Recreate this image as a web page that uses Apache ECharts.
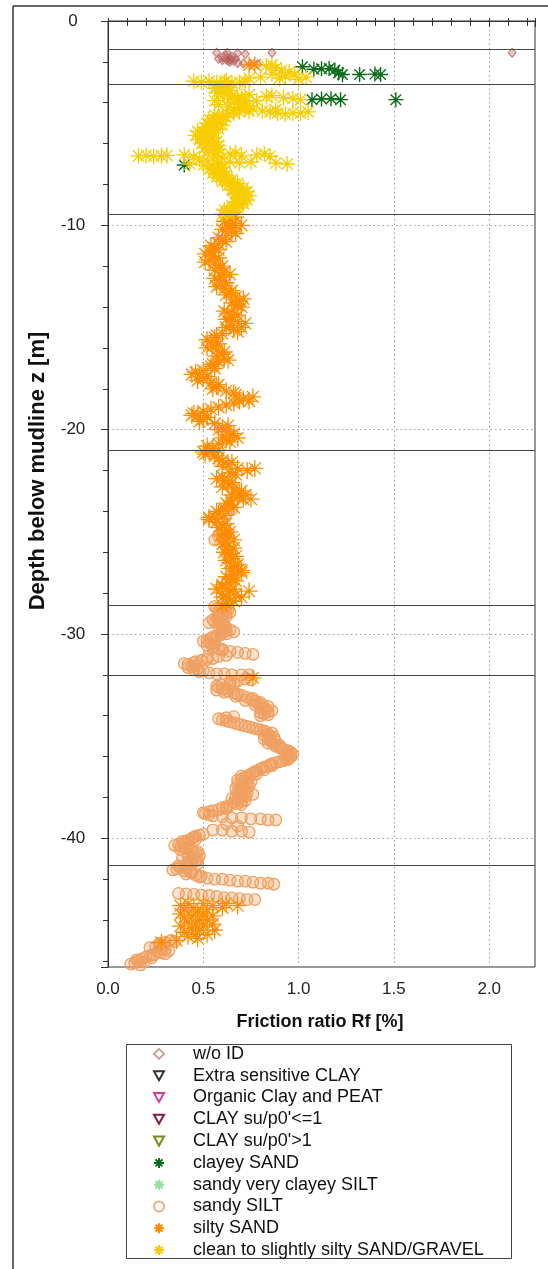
<!DOCTYPE html>
<html><head><meta charset="utf-8">
<script src="https://cdn.jsdelivr.net/npm/echarts@6/dist/echarts.min.js"></script>
<style>html,body{margin:0;padding:0;background:#fff}#c{width:548px;height:1269px}</style>
</head><body><div id="c"></div>
<script>
// ---- data: [Rf %, z m] (z negative = below mudline) ----
const legendNames = ['w/o ID','Extra sensitive CLAY','Organic Clay and PEAT',"CLAY su/p0'<=1","CLAY su/p0'>1",
  'clayey SAND','sandy very clayey SILT','sandy SILT','silty SAND','clean to slightly silty SAND/GRAVEL'];
const xTickLabels = ['0.0','0.5','1.0','1.5','2.0'];
const yTickLabels = ['0','-10','-20','-30','-40'];
const layerBoundaries = [-1.39,-3.08,-9.46,-21.0,-28.6,-32.0,-41.3];

const woId = [[0.57,-1.55],[0.625,-1.56],[0.68,-1.58],[0.72,-1.62],[0.86,-1.55],[2.12,-1.55],
  [0.58,-1.85],[0.60,-1.78],[0.62,-1.70],[0.63,-1.80],[0.64,-1.88],[0.65,-1.75],[0.66,-1.95],[0.63,-1.95],
  [0.67,-1.85],[0.62,-1.88],[0.64,-2.0],[0.68,-2.05],[0.71,-2.08],[0.75,-2.12],[0.785,-2.12],[0.60,-1.92],
  [0.64,-1.82],[0.65,-1.9],[0.63,-1.86]];
const extraSensitiveClay = [];
const organicClayPeat = [];
const claySuLow = [];
const claySuHigh = [];
const clayeySand = [[1.02,-2.24],[1.08,-2.36],[1.12,-2.34],[1.16,-2.33],[1.19,-2.40],[1.21,-2.55],[1.23,-2.62],
  [1.32,-2.62],[1.40,-2.6],[1.43,-2.62],[1.07,-3.85],[1.12,-3.82],[1.17,-3.80],[1.22,-3.85],[1.51,-3.85],[0.40,-7.05]];
const sandyVeryClayeySilt = [];
const sandySilt = [[0.60,-28.7],[0.63,-28.8],[0.58,-28.9],[0.62,-29.0],[0.60,-29.1],[0.57,-29.2],[0.55,-29.3],[0.56,-29.4],
  [0.58,-29.5],[0.60,-29.6],[0.62,-29.7],[0.64,-29.8],[0.66,-29.9],[0.62,-30.0],[0.57,-30.1],[0.54,-30.2],[0.52,-30.3],
  [0.53,-30.4],[0.54,-30.5],[0.56,-30.6],[0.58,-30.7],[0.60,-30.8],[0.64,-30.85],[0.68,-30.9],[0.72,-30.95],[0.76,-31.0],
  [0.62,-31.05],[0.58,-31.1],[0.55,-31.2],[0.49,-31.3],[0.45,-31.4],[0.42,-31.5],[0.44,-31.6],[0.47,-31.7],[0.50,-31.8],
  [0.53,-31.9],[0.57,-31.95],[0.61,-31.95],[0.65,-32.0],[0.70,-32.0],[0.74,-32.0],[0.72,-32.2],[0.68,-32.3],[0.64,-32.4],
  [0.60,-32.5],[0.58,-32.6],[0.60,-32.7],[0.63,-32.8],[0.66,-32.9],[0.70,-33.0],[0.73,-33.1],[0.75,-33.2],[0.77,-33.3],
  [0.79,-33.4],[0.81,-33.5],[0.82,-33.6],[0.83,-33.7],[0.84,-33.8],[0.82,-33.9],[0.80,-34.0],[0.62,-34.1],[0.60,-34.2],
  [0.64,-34.3],[0.68,-34.4],[0.72,-34.5],[0.76,-34.6],[0.80,-34.7],[0.83,-34.8],[0.84,-34.9],[0.85,-35.0],[0.84,-35.1],
  [0.85,-35.2],[0.86,-35.3],[0.87,-35.4],[0.88,-35.5],[0.91,-35.6],[0.94,-35.7],[0.96,-35.8],[0.97,-35.9],[0.96,-36.0],
  [0.95,-36.1],[0.92,-36.2],[0.88,-36.3],[0.85,-36.4],[0.83,-36.5],[0.80,-36.6],[0.78,-36.7],[0.76,-36.8],[0.74,-36.9],
  [0.72,-37.0],[0.70,-37.1],[0.71,-37.2],[0.73,-37.3],[0.70,-37.4],[0.72,-37.5],[0.69,-37.6],[0.70,-37.7],[0.73,-37.8],
  [0.70,-37.9],[0.67,-38.0],[0.68,-38.1],[0.70,-38.2],[0.68,-38.3],[0.64,-38.4],[0.60,-38.5],[0.58,-38.6],[0.53,-38.7],
  [0.51,-38.8],[0.55,-38.9],[0.60,-38.95],[0.65,-39.0],[0.70,-39.0],[0.75,-39.05],[0.80,-39.05],[0.84,-39.1],[0.88,-39.1],
  [0.62,-39.3],[0.68,-39.4],[0.55,-39.6],[0.60,-39.6],[0.65,-39.65],[0.70,-39.65],[0.74,-39.7],[0.50,-39.8],[0.46,-39.9],
  [0.44,-40.0],[0.42,-40.1],[0.40,-40.2],[0.37,-40.3],[0.38,-40.4],[0.41,-40.5],[0.44,-40.6],[0.46,-40.7],[0.45,-40.8],
  [0.42,-40.9],[0.44,-41.0],[0.46,-41.1],[0.44,-41.2],[0.41,-41.3],[0.38,-41.4],[0.36,-41.5],[0.40,-41.6],[0.44,-41.7],
  [0.46,-41.8],[0.48,-41.9],[0.52,-41.95],[0.56,-42.0],[0.60,-42.0],[0.64,-42.05],[0.68,-42.1],[0.72,-42.1],[0.76,-42.15],
  [0.80,-42.2],[0.84,-42.2],[0.87,-42.25],[0.37,-42.7],[0.41,-42.72],[0.45,-42.75],[0.49,-42.78],[0.53,-42.8],[0.57,-42.85],
  [0.61,-42.9],[0.65,-42.92],[0.69,-42.95],[0.73,-43.0],[0.77,-43.0],[0.33,-45.0],[0.30,-45.1],[0.27,-45.2],[0.25,-45.3],
  [0.28,-45.4],[0.32,-45.5],[0.28,-45.6],[0.24,-45.7],[0.20,-45.8],[0.18,-45.9],[0.16,-46.0],[0.14,-46.1],[0.17,-46.2],
  [0.65,-23.9],[0.62,-24.1],[0.60,-25.3],[0.56,-25.4],[0.58,-25.2],[0.56,-28.65],
  [0.57,-28.75],[0.61,-28.85],[0.64,-28.95],[0.58,-29.05],[0.62,-29.15],[0.59,-29.25],[0.58,-29.35],[0.53,-29.45],
  [0.61,-29.55],[0.58,-29.65],[0.60,-29.75],[0.62,-29.85],[0.60,-29.95],[0.59,-30.05],[0.55,-30.15],[0.56,-30.25],
  [0.50,-30.35],[0.56,-30.45],[0.52,-30.55],[0.55,-30.65],[0.60,-30.75],[0.52,-31.15],[0.52,-31.25],[0.46,-31.35],
  [0.40,-31.45],[0.46,-31.55],[0.42,-31.65],[0.45,-31.75],[0.48,-31.85],
  [0.75,-32.25],[0.64,-32.35],[0.66,-32.45],[0.57,-32.55],[0.62,-32.65],[0.57,-32.75],[0.61,-32.85],[0.68,-32.95],
  [0.67,-33.05],[0.76,-33.15],[0.72,-33.25],[0.80,-33.35],[0.77,-33.45],[0.84,-33.55],[0.80,-33.65],[0.86,-33.75],
  [0.80,-33.85],[0.84,-33.95],[0.66,-34.05],[0.58,-34.15],[0.62,-34.25],[0.66,-34.35],[0.70,-34.45],[0.74,-34.55],
  [0.78,-34.65],[0.82,-34.75],[0.86,-34.85],[0.82,-34.95],[0.87,-35.05],[0.82,-35.15],[0.88,-35.25],[0.84,-35.35],
  [0.90,-35.45],[0.90,-35.55],[0.92,-35.65],[0.95,-35.75],[0.94,-35.85],[0.94,-35.95],[0.93,-36.05],[0.94,-36.15],
  [0.90,-36.25],[0.86,-36.35],[0.86,-36.45],[0.81,-36.55],[0.82,-36.65],[0.77,-36.75],[0.78,-36.85],[0.70,-36.95],
  [0.74,-37.05],[0.68,-37.15],[0.75,-37.25],[0.68,-37.35],[0.74,-37.45],[0.67,-37.55],[0.72,-37.65],[0.68,-37.75],
  [0.76,-37.85],[0.72,-37.95],[0.65,-38.05],[0.72,-38.15],[0.66,-38.25],[0.70,-38.35],[0.62,-38.45],[0.62,-38.55],
  [0.55,-38.65],[0.50,-38.75],[0.53,-38.85],
  [0.48,-39.85],[0.45,-39.95],[0.46,-40.05],[0.39,-40.15],[0.42,-40.25],[0.35,-40.35],[0.40,-40.45],[0.38,-40.55],
  [0.47,-40.65],[0.42,-40.75],[0.48,-40.85],[0.39,-40.95],[0.47,-41.05],[0.42,-41.15],[0.47,-41.25],[0.37,-41.35],
  [0.41,-41.45],[0.34,-41.55],[0.43,-41.65],[0.41,-41.75],[0.49,-41.85],
  [0.35,-45.05],[0.27,-45.15],[0.30,-45.25],[0.22,-45.35],[0.30,-45.45],[0.26,-45.55],[0.30,-45.65],[0.22,-45.75],
  [0.23,-45.85],[0.15,-45.95],[0.19,-46.05],[0.12,-46.15]];
const siltySand = [[0.62,-9.5],[0.64,-9.7],[0.66,-9.9],[0.63,-10.1],[0.65,-10.3],[0.62,-10.5],[0.60,-10.7],[0.58,-10.9],
  [0.56,-11.1],[0.54,-11.3],[0.55,-11.5],[0.53,-11.7],[0.56,-11.9],[0.59,-12.1],[0.61,-12.3],[0.60,-12.5],[0.58,-12.7],
  [0.59,-12.9],[0.61,-13.1],[0.64,-13.3],[0.67,-13.5],[0.69,-13.7],[0.68,-13.9],[0.66,-14.1],[0.63,-14.3],[0.65,-14.5],
  [0.68,-14.7],[0.64,-14.9],[0.66,-15.1],[0.60,-15.3],[0.56,-15.5],[0.54,-15.7],[0.55,-15.9],[0.57,-16.1],[0.60,-16.3],
  [0.61,-16.5],[0.58,-16.7],[0.54,-16.9],[0.50,-17.1],[0.48,-17.3],[0.50,-17.5],[0.54,-17.7],[0.57,-17.9],[0.62,-18.1],
  [0.67,-18.3],[0.71,-18.5],[0.66,-18.7],[0.58,-18.9],[0.50,-19.1],[0.47,-19.3],[0.50,-19.5],[0.56,-19.7],[0.60,-19.9],
  [0.62,-20.1],[0.64,-20.3],[0.62,-20.5],[0.58,-20.7],[0.55,-20.9],[0.53,-21.1],[0.56,-21.3],[0.60,-21.5],[0.63,-21.7],
  [0.68,-21.9],[0.64,-22.1],[0.60,-22.3],[0.61,-22.5],[0.63,-22.7],[0.66,-22.9],[0.69,-23.1],[0.68,-23.3],[0.65,-23.5],
  [0.63,-23.7],[0.61,-23.9],[0.58,-24.1],[0.56,-24.3],[0.57,-24.5],[0.60,-24.7],[0.62,-24.9],[0.61,-25.1],[0.63,-25.3],
  [0.62,-25.5],[0.63,-25.7],[0.64,-25.9],[0.63,-26.1],[0.65,-26.3],[0.64,-26.5],[0.66,-26.7],[0.68,-26.9],[0.66,-27.1],
  [0.65,-27.3],[0.63,-27.5],[0.60,-27.7],[0.64,-27.9],[0.67,-28.1],[0.63,-28.3],[0.62,-28.5],
  [0.67,-9.6],[0.61,-9.8],[0.67,-10.0],[0.60,-10.2],[0.67,-10.4],[0.58,-10.6],[0.62,-10.8],[0.54,-11.0],[0.58,-11.2],
  [0.58,-11.6],[0.51,-11.8],[0.60,-12.0],[0.56,-12.2],[0.64,-12.4],[0.56,-12.6],[0.62,-12.8],[0.57,-13.0],[0.65,-13.2],
  [0.62,-13.4],[0.71,-13.6],[0.65,-13.8],[0.70,-14.0],[0.61,-14.2],[0.68,-14.4],[0.62,-14.6],[0.62,-15.0],[0.68,-15.2],
  [0.57,-15.4],[0.52,-15.6],[0.58,-15.8],[0.52,-16.0],[0.61,-16.2],[0.57,-16.4],[0.63,-16.6],[0.55,-16.8],[0.56,-17.0],
  [0.46,-17.2],[0.52,-17.4],[0.47,-17.6],[0.58,-17.8],[0.55,-18.0],[0.66,-18.2],[0.69,-18.6],[0.62,-18.8],[0.54,-19.0],
  [0.45,-19.2],[0.52,-19.4],[0.48,-19.6],[0.63,-19.8],[0.58,-20.0],[0.66,-20.2],[0.60,-20.4],[0.64,-20.6],[0.52,-20.8],
  [0.58,-21.0],[0.51,-21.2],[0.58,-21.4],[0.65,-21.6],[0.60,-21.8],[0.67,-22.2],[0.57,-22.4],[0.65,-22.6],[0.60,-22.8],
  [0.70,-23.0],[0.65,-23.2],[0.71,-23.4],[0.62,-23.6],[0.66,-23.8],[0.57,-24.0],[0.61,-24.2],[0.53,-24.4],[0.62,-24.6],
  [0.58,-24.8],[0.64,-25.0],[0.59,-25.2],[0.66,-25.4],[0.60,-25.6],[0.66,-25.8],[0.61,-26.0],[0.67,-26.2],[0.62,-26.4],
  [0.68,-26.6],[0.64,-26.8],[0.70,-27.0],[0.62,-27.2],[0.67,-27.4],[0.60,-27.6],[0.66,-27.8],[0.60,-28.0],[0.60,-28.2],
  [0.66,-28.4],[0.60,-28.6],
  [0.66,-8.27],[0.74,-2.15],[0.77,-2.15],[0.70,-10.0],[0.51,-11.4],[0.72,-14.8],[0.70,-15.0],[0.44,-17.3],[0.76,-18.4],
  [0.74,-18.6],[0.44,-19.3],[0.68,-20.4],[0.50,-21.1],[0.77,-21.9],[0.73,-22.0],[0.72,-23.2],[0.75,-23.4],[0.53,-24.3],
  [0.70,-26.9],[0.57,-27.8],[0.74,-27.9],[0.70,-28.2],[0.76,-32.15],
  [0.42,-43.2],[0.50,-43.2],[0.62,-43.2],[0.38,-43.3],[0.55,-43.3],[0.68,-43.3],[0.45,-43.4],[0.60,-43.4],[0.40,-43.5],
  [0.52,-43.5],[0.47,-43.6],[0.38,-43.7],[0.50,-43.7],[0.44,-43.8],[0.55,-43.8],[0.40,-43.9],[0.48,-44.0],[0.52,-44.0],
  [0.42,-44.1],[0.46,-44.2],[0.55,-44.2],[0.38,-44.3],[0.50,-44.3],[0.44,-44.4],[0.48,-44.5],[0.56,-44.5],[0.40,-44.6],
  [0.46,-44.7],[0.52,-44.7],[0.42,-44.8],[0.47,-44.9],[0.36,-45.0],[0.28,-45.1]];
const cleanSand = [[0.83,-2.2],[0.86,-2.15],[0.88,-2.3],[0.91,-2.4],[0.95,-2.5],[0.98,-2.6],[0.93,-2.7],[0.86,-2.6],
  [0.80,-2.75],[1.04,-2.75],[1.00,-2.85],[0.74,-2.8],[0.90,-2.8],
  [0.45,-2.95],[0.49,-3.0],[0.53,-2.95],[0.57,-3.02],[0.61,-2.98],[0.65,-3.03],[0.69,-3.0],[0.72,-2.95],[0.62,-2.92],
  [0.57,-3.15],[0.59,-3.25],[0.61,-3.35],[0.60,-3.45],[0.63,-3.55],[0.65,-3.65],[0.68,-3.75],[0.70,-3.85],[0.72,-3.95],
  [0.70,-4.05],[0.73,-4.15],[0.69,-4.25],[0.66,-4.35],[0.69,-4.45],[0.63,-4.55],[0.60,-4.65],[0.58,-4.75],[0.56,-3.9],[0.58,-4.1],
  [0.74,-3.6],[0.83,-3.7],[0.86,-3.65],[0.92,-3.75],[0.97,-3.8],[1.01,-3.85],[0.78,-3.9],
  [0.76,-4.3],[0.81,-4.4],[0.85,-4.45],[0.89,-4.5],[0.93,-4.55],[0.97,-4.5],[1.01,-4.5],[1.05,-4.45],[0.88,-4.35],[0.74,-4.4],
  [0.57,-4.85],[0.55,-4.95],[0.58,-5.05],[0.54,-5.15],[0.56,-5.25],[0.52,-5.35],[0.50,-5.45],[0.53,-5.55],[0.49,-5.65],
  [0.51,-5.75],[0.54,-5.85],[0.50,-5.95],[0.53,-6.05],[0.56,-6.15],[0.53,-6.25],[0.55,-6.35],[0.57,-6.45],
  [0.16,-6.6],[0.20,-6.58],[0.24,-6.62],[0.28,-6.6],[0.31,-6.58],[0.40,-6.55],[0.45,-6.65],[0.48,-6.75],[0.52,-6.85],
  [0.56,-6.6],[0.60,-6.7],[0.64,-6.5],[0.67,-6.45],[0.70,-6.6],[0.64,-6.9],[0.69,-6.95],[0.75,-6.9],[0.78,-6.55],
  [0.82,-6.5],[0.85,-6.62],[0.88,-6.95],[0.94,-7.0],[0.50,-7.05],[0.58,-7.0],[0.43,-7.0],
  [0.55,-7.1],[0.57,-7.2],[0.56,-7.3],[0.58,-7.4],[0.57,-7.5],[0.59,-7.6],[0.61,-7.7],[0.62,-7.8],[0.64,-7.9],[0.66,-8.0],
  [0.67,-8.1],[0.68,-8.2],[0.69,-8.3],[0.71,-8.4],[0.70,-8.5],[0.72,-8.6],[0.70,-8.7],[0.71,-8.8],[0.69,-8.9],[0.68,-9.0],
  [0.66,-9.1],[0.65,-9.2],[0.63,-9.3],[0.62,-9.4],
  [0.62,-3.2],[0.56,-3.3],[0.64,-3.4],[0.57,-3.5],[0.61,-3.6],[0.70,-3.7],[0.64,-3.8],[0.66,-4.0],[0.63,-4.2],[0.72,-4.3],
  [0.66,-4.5],[0.56,-4.6],[0.62,-4.7],[0.53,-4.8],[0.60,-4.9],[0.52,-5.0],[0.60,-5.1],[0.51,-5.2],[0.58,-5.3],[0.47,-5.4],
  [0.55,-5.5],[0.46,-5.6],[0.55,-5.7],[0.48,-5.8],[0.57,-5.9],[0.49,-6.0],[0.58,-6.1],[0.51,-6.2],[0.58,-6.3],[0.53,-6.4],
  [0.60,-7.15],[0.53,-7.25],[0.61,-7.35],[0.55,-7.45],[0.62,-7.55],[0.57,-7.65],[0.65,-7.75],[0.60,-7.85],[0.68,-7.95],
  [0.63,-8.05],[0.71,-8.15],[0.65,-8.25],[0.73,-8.35],[0.67,-8.45],[0.74,-8.55],[0.68,-8.65],[0.73,-8.75],[0.67,-8.85],
  [0.71,-8.95],[0.65,-9.05],[0.68,-9.15],[0.61,-9.25],[0.66,-9.35],[0.60,-9.45]];

// ---- rendering ----
const FONT = "'Liberation Sans', Arial, sans-serif";
const STAR = 'path://M5,0L5,10M0,5L10,5M1.5,1.5L8.5,8.5M8.5,1.5L1.5,8.5';
const TRI_DOWN = 'path://M0,0L10,0L5,9Z';
const toPlot = arr => arr.map(p => [p[0], -p[1]]);
const ZMAX = 46.3, XMAX = 2.24;

function scatter(name, data, symbol, size, fill, stroke, width, extra) {
  return Object.assign({
    name, type: 'scatter', data: toPlot(data), symbol, symbolSize: size,
    itemStyle: { color: fill, borderColor: stroke, borderWidth: width, opacity: 1 },
    emphasis: { disabled: true }, silent: true, animation: false
  }, extra || {});
}

const series = [
  scatter(legendNames[0], woId, 'diamond', [8, 9], 'rgba(180,60,60,0.3)', '#c07878', 1, {
    markLine: {
      silent: true, symbol: ['none', 'none'], animation: false, label: { show: false },
      lineStyle: { color: '#444', width: 1.2, type: 'solid' },
      data: layerBoundaries.map(z => ({ yAxis: -z }))
    }
  }),
  scatter(legendNames[1], extraSensitiveClay, TRI_DOWN, 9, '#fff', '#333', 1),
  scatter(legendNames[2], organicClayPeat, TRI_DOWN, 9, '#fff', '#d0409a', 1),
  scatter(legendNames[3], claySuLow, TRI_DOWN, 9, '#fff', '#7a1f4a', 1),
  scatter(legendNames[4], claySuHigh, TRI_DOWN, 9, '#fff', '#7a8a1f', 1),
  scatter(legendNames[5], clayeySand, STAR, 15, '#0a6b1a', '#0a6b1a', 1.4),
  scatter(legendNames[6], sandyVeryClayeySilt, STAR, 12, '#8fe0a0', '#8fe0a0', 1.2),
  scatter(legendNames[7], sandySilt, 'circle', 11.5, 'rgba(240,160,95,0.3)', '#f0a060', 1.3),
  scatter(legendNames[8], siltySand, STAR, 17, '#ff8c00', '#ff8c00', 1.3),
  scatter(legendNames[9], cleanSand, STAR, 16, '#f7cc00', '#f7cc00', 1.3)
];

const axisLine = { show: true, lineStyle: { color: '#333', width: 1 } };
const xBase = { type: 'value', min: 0, max: XMAX, gridIndex: 0 };
const yBase = { type: 'value', min: 0, max: ZMAX, inverse: true, gridIndex: 0 };
const off = { axisLabel: { show: false }, splitLine: { show: false } };

const legendIconStyle = { 'w/o ID': { color: '#fff', borderColor: '#c8a0a0' }, 'sandy SILT': { color: '#fff', borderColor: '#e8b080' } };

const option = {
  animation: false,
  backgroundColor: '#fff',
  textStyle: { fontFamily: FONT },
  grid: { left: 108, top: 21, width: 427, height: 946, show: true, borderColor: '#333', borderWidth: 1, backgroundColor: 'transparent' },
  xAxis: [
    Object.assign({}, xBase, {
      position: 'bottom', interval: 0.5, axisLine,
      axisTick: { show: true, inside: false, length: 6, lineStyle: { color: '#333' } },
      axisLabel: { show: true, fontSize: 17, color: '#222', margin: 14, fontFamily: FONT,
        formatter: v => { const i = Math.round(v / 0.5); return Math.abs(v - i * 0.5) < 1e-6 && xTickLabels[i] ? xTickLabels[i] : ''; } },
      splitLine: { show: true, lineStyle: { color: '#9a9a9a', width: 1, type: [1.5, 3] } }
    }),
    Object.assign({}, xBase, off, { position: 'bottom', interval: 0.1, axisLine: { show: false },
      axisTick: { show: true, inside: false, length: 3, lineStyle: { color: '#333' } } }),
    Object.assign({}, xBase, off, { position: 'bottom', interval: 0.1, axisLine: { show: false },
      axisTick: { show: true, inside: true, length: 3, lineStyle: { color: '#333' } } }),
    Object.assign({}, xBase, off, { position: 'top', interval: 0.1, axisLine: { show: false },
      axisTick: { show: true, inside: true, length: 5, lineStyle: { color: '#333' } } })
  ],
  yAxis: [
    Object.assign({}, yBase, {
      position: 'left', interval: 10, axisLine,
      axisTick: { show: true, inside: false, length: 7, lineStyle: { color: '#333' } },
      axisLabel: { show: true, fontSize: 17, color: '#222', margin: 35, align: 'center', fontFamily: FONT,
        formatter: v => { const i = Math.round(v / 10); return Math.abs(v - i * 10) < 1e-6 && yTickLabels[i] ? yTickLabels[i] : ''; } },
      splitLine: { show: true, lineStyle: { color: '#9a9a9a', width: 1, type: [1.5, 3] } }
    }),
    Object.assign({}, yBase, off, { position: 'left', interval: 2, axisLine: { show: false },
      axisTick: { show: true, inside: false, length: 5, lineStyle: { color: '#333' } } }),
    Object.assign({}, yBase, off, { position: 'right', interval: 2, axisLine: { show: false },
      axisTick: { show: true, inside: true, length: 5, lineStyle: { color: '#333' } } })
  ],
  legend: {
    show: true, orient: 'vertical', left: 153, top: 1043, padding: 0, itemGap: 0,
    itemWidth: 10, itemHeight: 10, selectedMode: false,
    data: legendNames.map(n => legendIconStyle[n] ? { name: n, itemStyle: legendIconStyle[n] } : n),
    textStyle: { fontSize: 18, color: '#111', fontFamily: FONT, lineHeight: 21.8, padding: [0, 0, 0, 24] }
  },
  series,
  graphic: [
    { type: 'line', shape: { x1: 13, y1: 6, x2: 548, y2: 6 }, style: { stroke: '#333', lineWidth: 1.5 }, silent: true },
    { type: 'line', shape: { x1: 13, y1: 6, x2: 13, y2: 1269 }, style: { stroke: '#333', lineWidth: 1.5 }, silent: true },
    { type: 'rect', shape: { x: 126.5, y: 1044.5, width: 385, height: 214 }, style: { fill: 'none', stroke: '#444', lineWidth: 1 }, silent: true },
    { type: 'text', x: 320, y: 1022, silent: true,
      style: { text: 'Friction ratio Rf [%]', font: 'bold 18px ' + FONT, fill: '#111', textAlign: 'center', textVerticalAlign: 'middle' } },
    { type: 'text', x: 38, y: 471, rotation: Math.PI / 2, silent: true,
      style: { text: 'Depth below mudline z [m]', font: 'bold 22px ' + FONT, fill: '#111', textAlign: 'center', textVerticalAlign: 'middle' } }
  ]
};

const chart = echarts.init(document.getElementById('c'), null, { renderer: 'canvas' });
chart.setOption(option);
</script>
</body></html>
